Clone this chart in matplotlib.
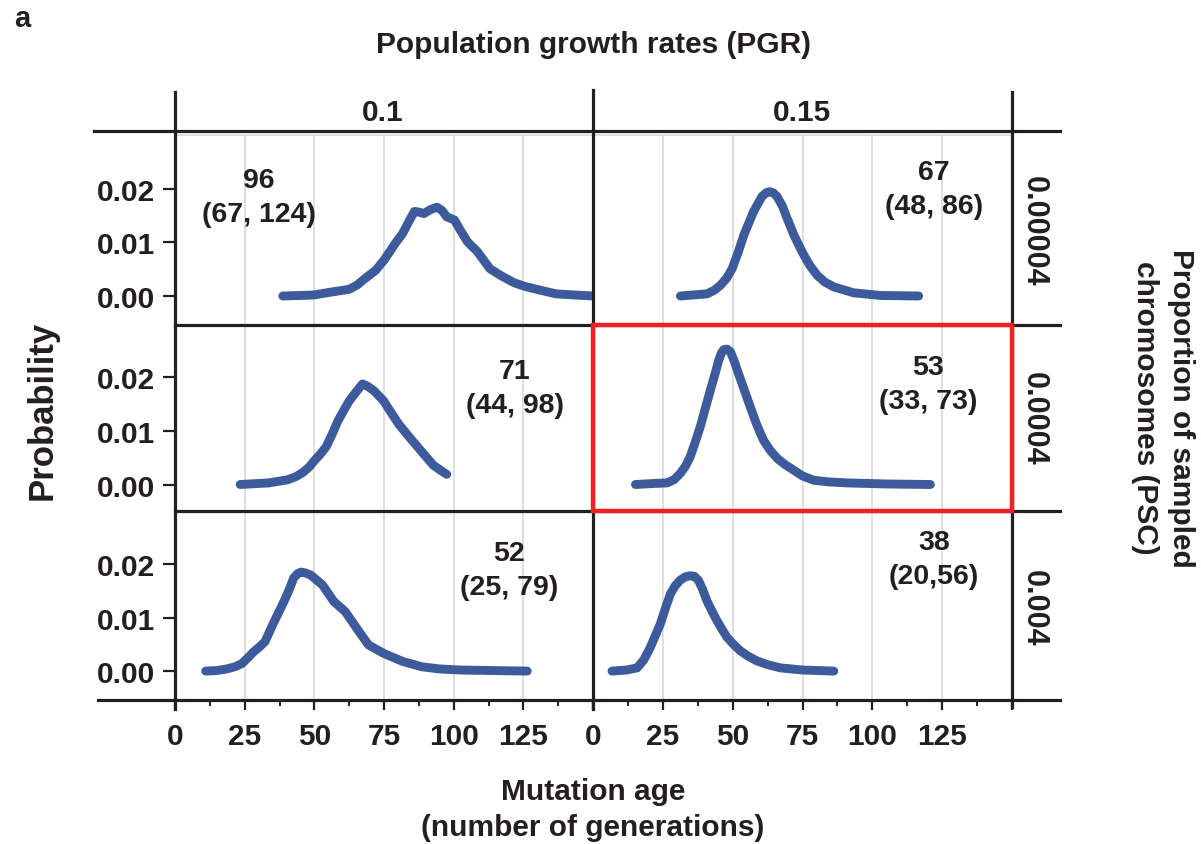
import matplotlib
matplotlib.use("Agg")
import matplotlib.pyplot as plt
from matplotlib.lines import Line2D
from matplotlib.patches import Rectangle

plt.rcParams['font.family'] = ['Liberation Sans', 'DejaVu Sans']
plt.rcParams['font.weight'] = 'bold'

# ---------------- data ----------------
pgr_labels = ["0.1", "0.15"]
psc_labels = ["0.00004", "0.0004", "0.004"]
x_ticks = [0, 25, 50, 75, 100, 125]
y_ticks = [0.00, 0.01, 0.02]
y_tick_labels = ["0.00", "0.01", "0.02"]

# row 1 (PSC 0.00004)
x_r1_c1 = [38.7, 45, 50, 55.6, 62.5, 65.5, 68, 72, 75, 79, 81.7, 84, 85.9, 87.5, 89.3, 91.5, 94,
           95.8, 97.5, 100.3, 102.5, 105, 108.5, 113, 117, 121.6, 125.5, 129.8, 136.7, 143, 150]
y_r1_c1 = [0, 0.0001, 0.0002, 0.0007, 0.00125, 0.0021, 0.0032, 0.0048, 0.0067, 0.0098, 0.0117,
           0.0140, 0.0158, 0.0157, 0.0154, 0.0161, 0.0166, 0.0160, 0.0148, 0.0142, 0.0122,
           0.0101, 0.0083, 0.0051, 0.0038, 0.0025, 0.0018, 0.00125, 0.0004, 0.0002, 0.0]
x_r1_c2 = [31.3, 36, 40.8, 43.5, 45.6, 47.8, 49.8, 52, 54, 57.5, 60.5, 62.0, 63.2, 64.5, 65.9,
           67.8, 69.5, 72, 74.8, 77.5, 80.2, 83, 86.2, 93.3, 102.9, 116.6]
y_r1_c2 = [0, 0.0002, 0.0004, 0.0011, 0.002, 0.0033, 0.0051, 0.0082, 0.0114, 0.0158, 0.0186,
           0.0193, 0.0195, 0.0193, 0.0186, 0.0168, 0.0145, 0.0113, 0.0083, 0.0058, 0.0039,
           0.0026, 0.0017, 0.0006, 0.0001, 0]
# row 2 (PSC 0.0004)
x_r2_c1 = [23.4, 33.7, 40.5, 43.5, 46, 48.2, 50.1, 52.2, 54.3, 56.4, 58.4, 60.5, 62.5, 65,
           67.3, 69.3, 71.4, 74.9, 77.6, 80.4, 84.5, 88.6, 92.7, 95.2, 97.5]
y_r2_c1 = [0, 0.0003, 0.0009, 0.0015, 0.0023, 0.0033, 0.0045, 0.0057, 0.0071, 0.0094, 0.0118,
           0.0138, 0.0156, 0.0173, 0.0188, 0.0183, 0.0175, 0.0156, 0.0134, 0.0112, 0.0086,
           0.0061, 0.0036, 0.0027, 0.0019]
x_r2_c2 = [15.2, 22, 26.5, 29, 31.3, 33.2, 34.8, 36.6, 38.4, 40.2, 42, 43.6, 45, 46.0, 46.8,
           48.0, 49.2, 50.6, 52.1, 54.2, 56.3, 58.6, 61, 63.4, 65.9, 68.8, 71.8, 75, 79, 84,
           90.9, 105, 120.8]
y_r2_c2 = [0, 0.0002, 0.0003, 0.0009, 0.0021, 0.0035, 0.0052, 0.0079, 0.0108, 0.0142, 0.0176,
           0.0205, 0.0232, 0.0246, 0.0252, 0.0253, 0.0248, 0.0230, 0.0207, 0.0176, 0.0145,
           0.0112, 0.0083, 0.0064, 0.0049, 0.0037, 0.0027, 0.0016, 0.0008, 0.0005, 0.0003,
           0.0001, 0]
# row 3 (PSC 0.004)
x_r3_c1 = [11, 15, 18.5, 21.5, 24, 26.2, 28.2, 30.3, 32.3, 35, 39.1, 41.2, 42.6, 44, 45.3, 47,
           48.8, 52.9, 57, 61.1, 65.2, 69.4, 74.9, 81.7, 88.6, 95, 102.3, 114, 126.4]
y_r3_c1 = [0, 0.0001, 0.0004, 0.0008, 0.0014, 0.0025, 0.0036, 0.0045, 0.0055, 0.0086, 0.013,
           0.0155, 0.0174, 0.0182, 0.0185, 0.0183, 0.0179, 0.0161, 0.013, 0.0111, 0.008,
           0.0049, 0.0033, 0.0018, 0.0008, 0.0004, 0.0002, 0.0001, 0]
x_r3_c2 = [6.8, 12, 15.8, 18.2, 20.5, 22.3, 24.1, 25.9, 27.7, 29.5, 31.3, 33.0, 34.8, 36.3,
           37.8, 39.3, 40.8, 42.6, 44.4, 46.2, 48, 50.3, 52.7, 55.5, 58.7, 62.5, 67.1, 75, 86.2]
y_r3_c2 = [0, 0.0002, 0.0006, 0.0021, 0.0044, 0.0066, 0.0088, 0.0117, 0.0144, 0.0160, 0.017,
           0.0176, 0.0178, 0.0177, 0.0169, 0.0152, 0.0131, 0.0112, 0.0094, 0.0078, 0.0063,
           0.0050, 0.0038, 0.0028, 0.0019, 0.0012, 0.0006, 0.0002, 0]

series = [[(x_r1_c1, y_r1_c1), (x_r1_c2, y_r1_c2)],
          [(x_r2_c1, y_r2_c1), (x_r2_c2, y_r2_c2)],
          [(x_r3_c1, y_r3_c1), (x_r3_c2, y_r3_c2)]]

# mean age and interval labels
labels = [["96\n(67, 124)", "67\n(48, 86)"],
          ["71\n(44, 98)", "53\n(33, 73)"],
          ["52\n(25, 79)", "38\n(20,56)"]]
label_pos = [[(30, 0.0185), (122, 0.0200)],
             [(122, 0.0180), (120, 0.0187)],
             [(120, 0.0189), (122, 0.0209)]]

# ---------------- layout ----------------
W, H = 1201, 845
fig = plt.figure(figsize=(W / 100, H / 100), dpi=100)

def fx(px):
    return px / W

def fy(py):
    return 1 - py / H

col_px = [(175, 593), (593, 1012)]
row_px = [(132, 326), (326, 512), (512, 701)]
row_ylim = [(-0.00542, 0.03084), (-0.00495, 0.0298), (-0.0054, 0.0299)]

blue = '#3d5a9c'
dark = '#231f20'
fs = 21.5

for r in range(3):
    for c in range(2):
        x0, x1 = col_px[c]
        y0, y1 = row_px[r]
        ax = fig.add_axes([fx(x0), fy(y1), (x1 - x0) / W, (y1 - y0) / H])
        ax.set_xlim(0, 150)
        ax.set_ylim(*row_ylim[r])
        for s in ax.spines.values():
            s.set_visible(False)
        ax.patch.set_alpha(0)
        ax.vlines([25, 50, 75, 100, 125], row_ylim[r][0], 0.03, colors='#d9d9d9', lw=1.2, zorder=1)
        ax.axhline(0.03, color='#d9d9d9', lw=1.2, zorder=1)
        xs, ys = series[r][c]
        ax.plot(xs, ys, color=blue, lw=6.4, solid_capstyle='round', solid_joinstyle='round',
                zorder=3)
        lx, ly = label_pos[r][c]
        ax.text(lx, ly, labels[r][c], ha='center', va='center', fontsize=20.5,
                fontweight='bold', color=dark, linespacing=1.4, multialignment='center')
        if c == 0:
            ax.set_yticks(y_ticks)
            ax.set_yticklabels(y_tick_labels)
            ax.tick_params(axis='y', length=9, width=1.6, color=dark, pad=5,
                           labelsize=fs, labelcolor=dark)
        else:
            ax.set_yticks([])
        if r == 2:
            ax.set_xticks(x_ticks + [150])
            ax.set_xticklabels([str(t) for t in x_ticks] + [""])
            ax.set_xticks([12.5, 37.5, 62.5, 87.5, 112.5, 137.5], minor=True)
            ax.tick_params(axis='x', which='major', length=7, width=1.6, color=dark, pad=9,
                           labelsize=fs, labelcolor=dark)
            ax.tick_params(axis='x', which='minor', length=4, width=1.4, color=dark)
        else:
            ax.set_xticks([])

# frame lines
lw = 2.3
def hline(py, xa, xb):
    fig.add_artist(Line2D([fx(xa), fx(xb)], [fy(py), fy(py)], color=dark, lw=lw,
                          transform=fig.transFigure, zorder=10))

def vline(px, ya, yb):
    fig.add_artist(Line2D([fx(px), fx(px)], [fy(ya), fy(yb)], color=dark, lw=lw,
                          transform=fig.transFigure, zorder=10))

hline(132, 94, 1060)
hline(326, 175, 1060)
hline(512, 175, 1060)
hline(701, 98, 1060)
vline(175, 93, 710)
vline(593, 91, 710)
vline(1012, 93, 708)

# highlight box
fig.add_artist(Rectangle((fx(593), fy(512)), (1012 - 593) / W, (512 - 326) / H, fill=False,
                         edgecolor='#ee2024', lw=3.2, transform=fig.transFigure, zorder=11))

# texts
fig.text(fx(14), fy(19), 'a', fontsize=21, fontweight='bold', color=dark, ha='left', va='center')
fig.text(fx(593), fy(45), 'Population growth rates (PGR)', fontsize=fs, fontweight='bold',
         color=dark, ha='center', va='center')
fig.text(fx(383), fy(113), pgr_labels[0], fontsize=fs, fontweight='bold', color=dark,
         ha='center', va='center')
fig.text(fx(802), fy(113), pgr_labels[1], fontsize=fs, fontweight='bold', color=dark,
         ha='center', va='center')
for lab, py in zip(psc_labels, [231, 419, 608]):
    fig.text(fx(1034), fy(py), lab, fontsize=22, fontweight='bold', color=dark,
             rotation=-90, ha='center', va='center')
fig.text(fx(1163), fy(408), 'Proportion of sampled\nchromosomes (PSC)', fontsize=fs,
         fontweight='bold', color=dark, rotation=-90, ha='center', va='center',
         linespacing=1.38, multialignment='center')
fig.text(fx(42), fy(410), 'Probability', fontsize=25, fontweight='bold', color=dark,
         rotation=90, ha='center', va='center')
fig.text(fx(593), fy(810), 'Mutation age\n(number of generations)', fontsize=fs,
         fontweight='bold', color=dark, ha='center', va='center', linespacing=1.38,
         multialignment='center')

fig.savefig('out.png', dpi=100)
